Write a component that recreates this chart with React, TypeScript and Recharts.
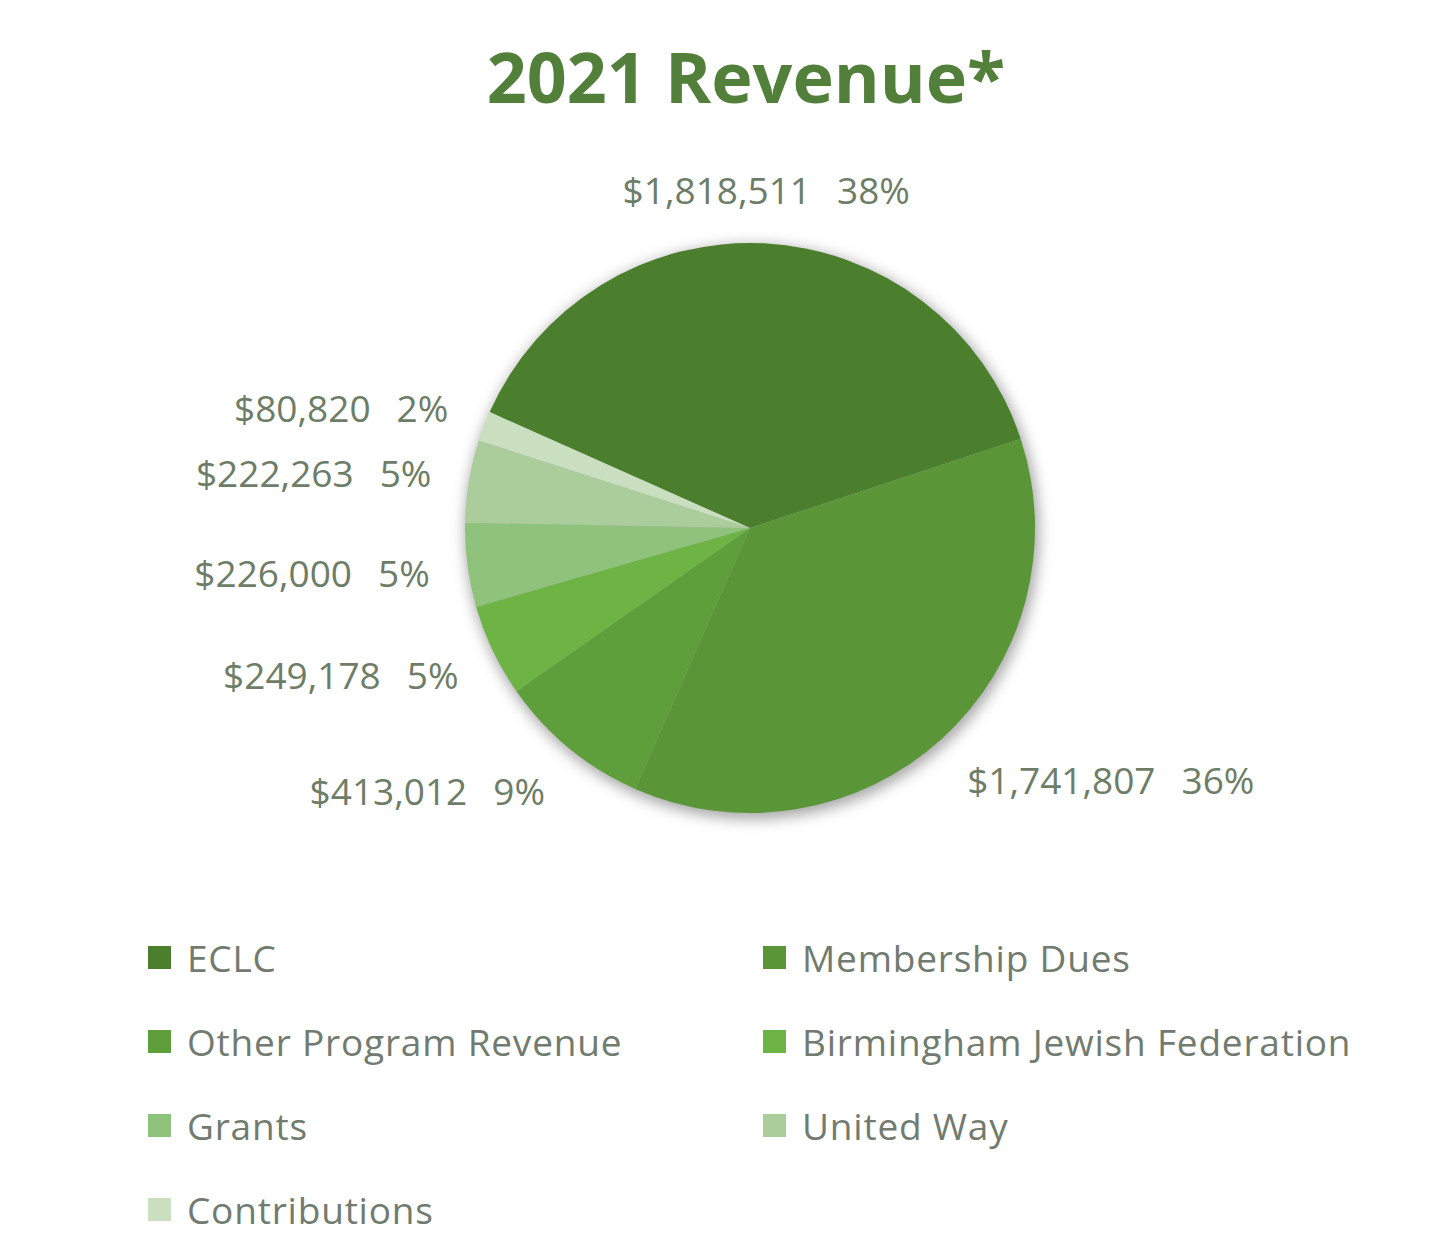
import React from 'react';
import { PieChart, Pie, Cell, Legend } from 'recharts';

const categories = [
  'ECLC',
  'Membership Dues',
  'Other Program Revenue',
  'Birmingham Jewish Federation',
  'Grants',
  'United Way',
  'Contributions',
];
const amounts = [1818511, 1741807, 413012, 249178, 226000, 222263, 80820];
const percentLabels = [38, 36, 9, 5, 5, 5, 2];
const colors = ['#4b7f2e', '#5a9537', '#5f9f3b', '#6db444', '#8fc27a', '#aacd9b', '#c9dfbf'];

const data = categories.map((name, i) => ({ name, value: amounts[i], pct: percentLabels[i] }));
const shadowData = [{ name: 'shadow', value: amounts.reduce((a, b) => a + b, 0) }];

const RAD = Math.PI / 180;
const FONT = '"Open Sans", "DejaVu Sans", sans-serif';

const renderLabel = (props: any) => {
  const { cx, cy, midAngle, outerRadius, index } = props;
  const R = outerRadius + 38;
  const c = Math.cos(-midAngle * RAD);
  const s = Math.sin(-midAngle * RAD);
  const x = cx + R * c;
  const y = cy + R * s + s * 16;
  const anchor = c > 0.3 ? 'start' : c < -0.3 ? 'end' : 'middle';
  const d = data[index];
  return (
    <text
      x={x}
      y={y}
      textAnchor={anchor}
      dominantBaseline="central"
      fill="#6d7d67"
      fontFamily={FONT}
      fontSize={37}
    >
      <tspan>{'$' + d.value.toLocaleString('en-US')}</tspan>
      <tspan dx={26}>{d.pct + '%'}</tspan>
    </text>
  );
};

const renderLegend = (props: any) => {
  const payload = (props.payload || [])
    .filter((p: any) => p.type !== 'none' && categories.indexOf(p.value) >= 0)
    .slice()
    .sort((a: any, b: any) => categories.indexOf(a.value) - categories.indexOf(b.value));
  return (
    <div style={{ position: 'relative', width: 1434, height: 340 }}>
      {payload.map((p: any, i: number) => {
        const col = i % 2;
        const row = Math.floor(i / 2);
        return (
          <div
            key={p.value}
            style={{
              position: 'absolute',
              left: col === 0 ? 140 : 755,
              top: row * 84,
              height: 84,
              display: 'flex',
              alignItems: 'center',
              fontFamily: FONT,
              fontSize: 37,
              color: '#717b6f',
              whiteSpace: 'nowrap',
              letterSpacing: 0.8,
            }}
          >
            <span
              style={{
                display: 'inline-block',
                width: 23,
                height: 23,
                background: colors[categories.indexOf(p.value)],
                marginRight: 16,
              }}
            />
            {p.value}
          </div>
        );
      })}
    </div>
  );
};

export default function App() {
  return (
    <div style={{ position: 'relative', width: 1434, height: 1236, background: '#ffffff' }}>
      <div
        style={{
          position: 'absolute',
          left: 0,
          top: 33,
          width: 1476,
          textAlign: 'center',
          fontFamily: FONT,
          fontWeight: 700,
          fontSize: 70,
          lineHeight: '70px',
          color: '#52803a',
          zIndex: 2,
        }}
      >
        2021 Revenue*
      </div>
      <PieChart width={1434} height={1236}>
        <Pie
          data={shadowData}
          dataKey="value"
          cx={739}
          cy={519}
          outerRadius={287}
          fill="rgba(60,60,60,0.45)"
          stroke="none"
          legendType="none"
          isAnimationActive={false}
          style={{ filter: 'blur(7px)' }}
        />
        <Pie
          data={data}
          dataKey="value"
          nameKey="name"
          cx={737}
          cy={515}
          outerRadius={285}
          startAngle={156}
          endAngle={-204}
          stroke="none"
          label={renderLabel}
          labelLine={false}
          isAnimationActive={false}
        >
          {data.map((d, i) => (
            <Cell key={d.name} fill={colors[i]} />
          ))}
        </Pie>
        <Legend
          content={renderLegend}
          wrapperStyle={{ position: 'absolute', left: 0, top: 907, width: 1434 }}
        />
      </PieChart>
    </div>
  );
}
